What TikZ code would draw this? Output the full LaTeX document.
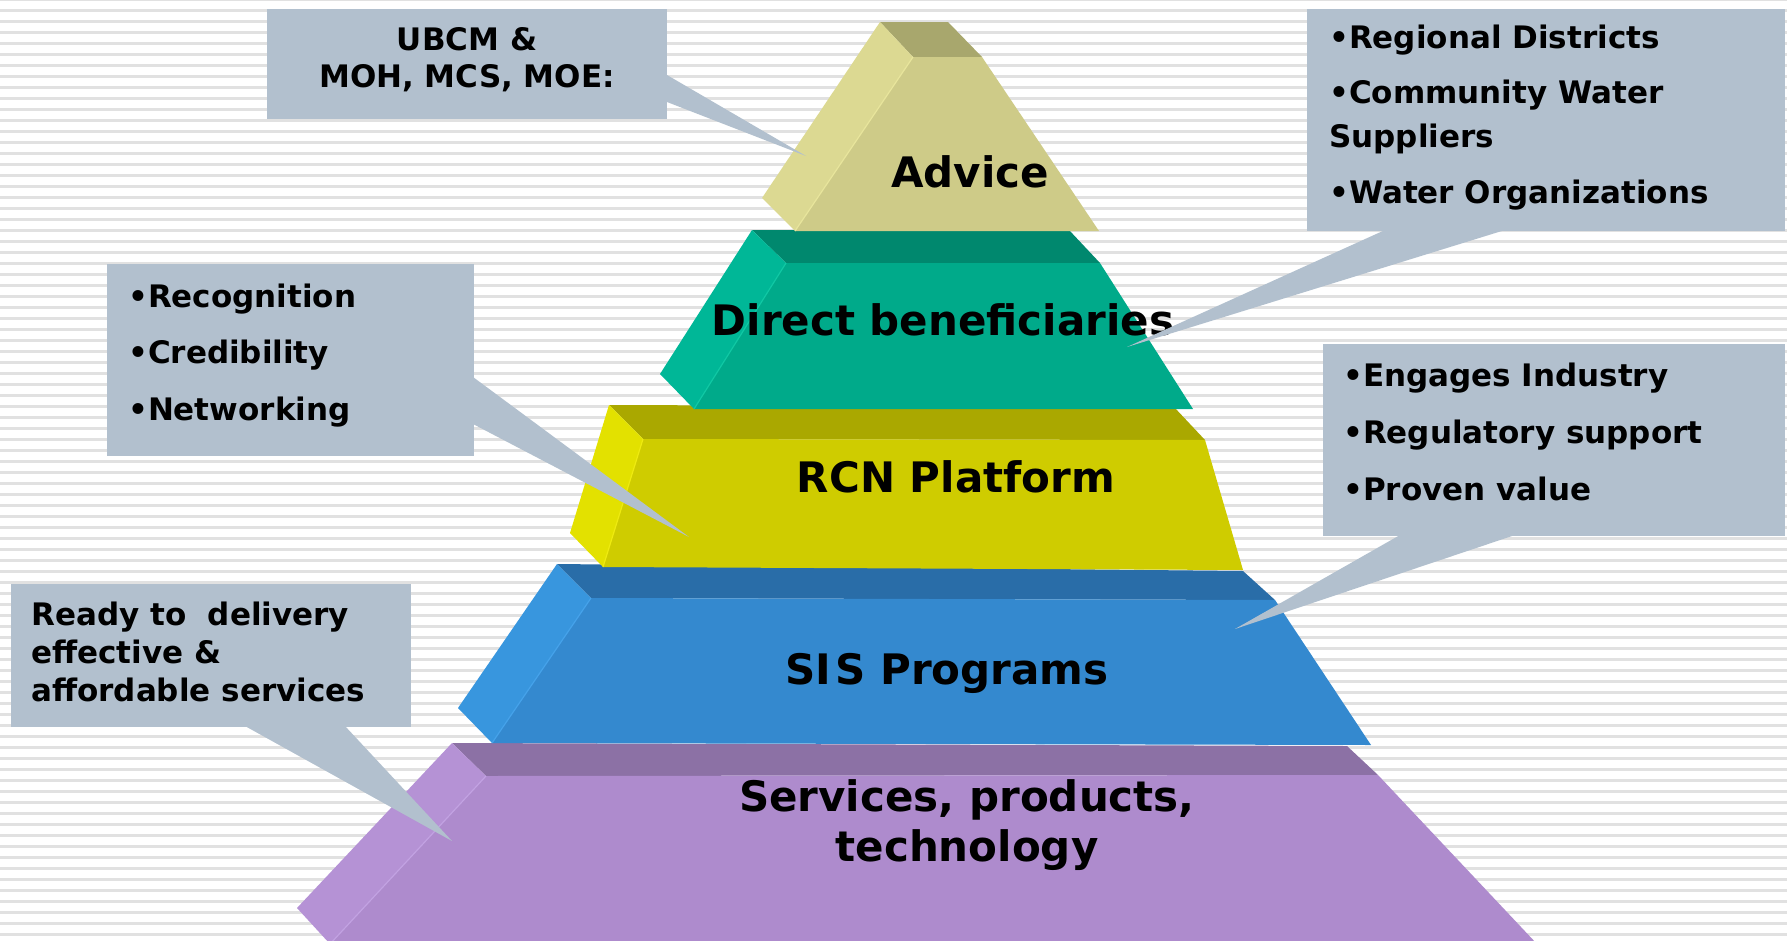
\documentclass[tikz,border=0pt]{standalone}
\usepackage{fontspec}
\setmainfont{DejaVu Sans}
\definecolor{stripe}{HTML}{E1E1E1}
\definecolor{callout}{HTML}{B2C0CE}
\definecolor{advF}{HTML}{CECB88}
\definecolor{advS}{HTML}{DCD992}
\definecolor{advT}{HTML}{A8A76D}
\definecolor{advH}{HTML}{E8E59C}
\definecolor{dirF}{HTML}{00AA8A}
\definecolor{dirS}{HTML}{00B797}
\definecolor{dirT}{HTML}{00886E}
\definecolor{dirH}{HTML}{10C8A4}
\definecolor{rcnF}{HTML}{CFCC00}
\definecolor{rcnS}{HTML}{E3E100}
\definecolor{rcnT}{HTML}{AAA800}
\definecolor{rcnH}{HTML}{EEEA10}
\definecolor{sisF}{HTML}{3489CF}
\definecolor{sisS}{HTML}{3896DE}
\definecolor{sisT}{HTML}{296DA8}
\definecolor{sisH}{HTML}{45A2EA}
\definecolor{svcF}{HTML}{AE8BCD}
\definecolor{svcS}{HTML}{B592D5}
\definecolor{svcT}{HTML}{8C71A5}
\definecolor{svcH}{HTML}{C2A2E2}
\tikzset{
  tierlabel/.style={font=\fontsize{42}{46}\selectfont\bfseries, inner sep=0pt, align=center},
  calltext/.style={font=\fontsize{31}{44}\selectfont\bfseries, inner sep=0pt, align=left},
  seam/.style={line width=1.2pt},
}
\begin{document}
\begin{tikzpicture}[x=1pt,y=-1pt]
\useasboundingbox (0,0) rectangle (1787,940);
\clip (0,0) rectangle (1787,940);
\fill[white] (0,0) rectangle (1787,940);
\fill[stripe] (0,0) rectangle (1787,1);
\foreach \k in {0,...,85} {\fill[stripe] (0,{8.6+11*\k}) rectangle (1787,{11.5+11*\k});}

% Tier 5: Services
\fill[svcT] (452,743) -- (1347,746) -- (1378,775) -- (486,776) -- cycle;
\fill[svcS] (452,743) -- (486,776) -- (330,944) -- (297,908) -- cycle;
\fill[svcF] (486,776) -- (1378,775) -- (1537,944) -- (330,944) -- cycle;
\draw[seam, svcH] (486,776) -- (330,944);
% Tier 4: SIS
\fill[sisT] (557,564) -- (1243,571) -- (1275,600) -- (591,598) -- cycle;
\fill[sisS] (557,564) -- (591,598) -- (492,743) -- (458,708) -- cycle;
\fill[sisF] (591,598) -- (1275,600) -- (1371,745) -- (492,743) -- cycle;
\draw[seam, sisH] (591,598) -- (492,743);
% Tier 3: RCN
\fill[rcnT] (609,405) -- (1174,407) -- (1205,440) -- (643,439) -- cycle;
\fill[rcnS] (609,405) -- (643,439) -- (603,567) -- (570,533) -- cycle;
\fill[rcnF] (643,439) -- (1205,440) -- (1243,570) -- (603,567) -- cycle;
\draw[seam, rcnH] (643,439) -- (603,567);
% Tier 2: Direct
\fill[dirT] (752,230) -- (1069,230) -- (1100,263) -- (786,263) -- cycle;
\fill[dirS] (752,230) -- (786,263) -- (694,409) -- (660,374) -- cycle;
\fill[dirF] (786,263) -- (1100,263) -- (1193,409) -- (694,409) -- cycle;
\draw[seam, dirH] (786,263) -- (694,409);
% Tier 1: Advice
\fill[advT] (880,22) -- (948,22) -- (982,57) -- (913,57) -- cycle;
\fill[advS] (880,22) -- (913,57) -- (795,231) -- (762,198) -- cycle;
\fill[advF] (913,57) -- (982,57) -- (1099,231) -- (795,231) -- cycle;
\draw[seam, advH] (913,57) -- (795,231);

% tier labels
\node[tierlabel, anchor=base] (advice) at (970,187) {Advice};
\node[tierlabel, anchor=base] (direct) at (943,335) {Direct beneficiaries};
\node[tierlabel, anchor=base] (rcn) at (956,492) {RCN Platform};
\node[tierlabel, anchor=base] (sis) at (947,684) {SI\kern4pt S Programs};
\node[tierlabel, font=\fontsize{42}{50}\selectfont\bfseries, anchor=base] (svc) at (967,861) {Services, products,\\technology};

% callouts
\coordinate (tipA) at (806,156);
\fill[callout] (267,9) rectangle (667,119);
\fill[callout] (667,75) -- (tipA) -- (667,102) -- cycle;
\node[font=\fontsize{31}{37}\selectfont\bfseries, inner sep=0pt, align=center, anchor=base] (ubcm) at (467,87) {UBCM \&\\MOH, MCS, MOE:};

\coordinate (tipB) at (1127,347);
\fill[callout] (1307,9) rectangle (1785,231);
\fill[callout] (1385,230) -- (tipB) -- (1505,230) -- cycle;
\node[calltext, anchor=base west] (regional) at (1329,203) {•Regional Districts\\[11pt]•Community Water\\Suppliers\\[12pt]•Water Organizations};

\coordinate (tipC) at (689,537);
\fill[callout] (107,264) rectangle (474,456);
\fill[callout] (473,377) -- (tipC) -- (473,424) -- cycle;
\node[calltext, anchor=base west] (recog) at (128,420) {•Recognition\\[12pt]•Credibility\\[13pt]•Networking};

\coordinate (tipD) at (1235,629);
\fill[callout] (1323,344) rectangle (1785,536);
\fill[callout] (1400,535) -- (tipD) -- (1515,535) -- cycle;
\node[calltext, anchor=base west] (engages) at (1343,500) {•Engages Industry\\[13pt]•Regulatory support\\[13pt]•Proven value};

\coordinate (tipE) at (452,841);
\fill[callout] (11,584) rectangle (411,727);
\fill[callout] (245,726) -- (tipE) -- (345,726) -- cycle;
\node[font=\fontsize{31}{38}\selectfont\bfseries, inner sep=0pt, align=left, anchor=base west] (ready) at (31,701) {Ready to\ \ delivery\\effective \&\\affordable services};
\end{tikzpicture}
\end{document}
